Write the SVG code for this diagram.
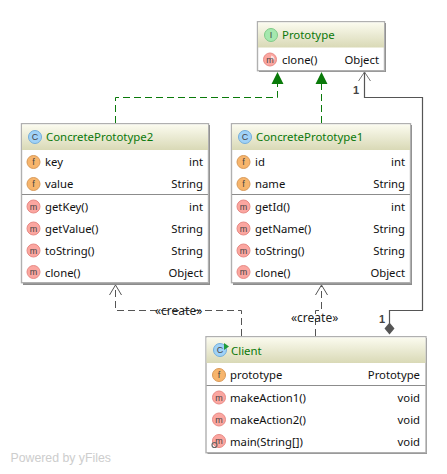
<svg xmlns="http://www.w3.org/2000/svg" width="447" height="474" viewBox="0 0 447 474">
<style>
text{font-family:"Noto Sans","Liberation Sans",sans-serif;font-size:11.3px;fill:#111}
.t{fill:#0a780a;font-size:11.4px}
.r{text-anchor:end}
.ic{font-family:"Liberation Sans",sans-serif;font-size:9px;text-anchor:middle;fill:#444}
.box{fill:#fff;stroke:#b0b0b0;stroke-width:1.4}
.sh{fill:#8c8c8c}
.sep{stroke:#8c8c8c;stroke-width:1}
.f{fill:#f7b56c;stroke:#d99a58}
.m{fill:#fba6a0;stroke:#e88a85}
.c{fill:#a0d2f7;stroke:#74aedb}
.i{fill:#a5e8ae;stroke:#7fca88}
.dash{fill:none;stroke:#555;stroke-width:1;stroke-dasharray:7 4}
.gdash{fill:none;stroke:#0a7a0a;stroke-width:1;stroke-dasharray:7 4}
.lbl{font-size:12px;fill:#222}
.one{font-family:"Liberation Sans",sans-serif;font-size:11px;font-weight:bold;fill:#444}
</style>
<defs>
<linearGradient id="hd" x1="0" y1="0" x2="0" y2="1"><stop offset="0" stop-color="#fbfbef"/><stop offset="1" stop-color="#d9d9b6"/></linearGradient>
</defs>
<rect width="447" height="474" fill="#fff"/>
<g id="connectors">
<path class="gdash" d="M115.500 123V97.500H277.500V84"/>
<path class="gdash" d="M321.500 123V84"/>
<path d="M271.500 84L277.500 72L283.500 84Z M315.500 84L321.500 72L327.500 84Z" fill="#0a7a0a"/>
<path class="dash" d="M241.500 336V310.500H115.500V286"/>
<path fill="none" stroke="#555" d="M109.500 295L115.500 285L121.500 295"/>
<path class="dash" d="M315.500 336V310.500H321.500V286"/>
<path fill="none" stroke="#555" d="M315.500 295L321.500 285L327.500 295"/>
<path fill="none" stroke="#555" stroke-width="1.200" d="M364.500 72V97.500H422.500V310.500H389.500V323"/>
<path fill="none" stroke="#777" d="M358.500 81L364.500 72L370.500 81"/>
<path d="M389.500 322.500L394.500 328.500L389.500 334.500L384.500 328.500Z" fill="#555"/>
<text class="lbl" x="155" y="315">«create»</text>
<text class="lbl" x="291" y="322">«create»</text>
<text class="one" x="353" y="94">1</text>
<text class="one" x="379" y="323">1</text>
</g>
<g id="Prototype">
<rect class="sh" x="259" y="23" width="127" height="49"/>
<rect class="box" x="257.500" y="21.700" width="127" height="49"/>
<rect x="258" y="22.500" width="126" height="25" fill="url(#hd)"/>
<circle class="i" cx="271" cy="35" r="6.500"/><text class="ic" x="271" y="38">I</text>
<text class="t" x="282" y="39">Prototype</text>
<circle class="m" cx="270" cy="59.500" r="6.500"/>
<path d="M271 55.500A4 4 0 0 1 274.500 59.500H271Z" fill="#fff" opacity=".7"/>
<text class="ic" x="270" y="62.500">m</text>
<text x="282" y="64">clone()</text><text class="r" x="379" y="64">Object</text>
</g>
<g id="ConcretePrototype2">
<rect class="sh" x="23" y="125" width="187" height="160"/>
<rect class="box" x="21.500" y="123.700" width="187" height="159"/>
<rect x="22" y="124.500" width="186" height="25.500" fill="url(#hd)"/>
<circle class="c" cx="35" cy="137" r="6.500"/><text class="ic" x="35" y="140">C</text>
<text class="t" x="46" y="141">ConcretePrototype2</text>
<circle class="f" cx="33.500" cy="162" r="6.500"/><text class="ic" x="33.500" y="165">f</text>
<text x="45" y="166">key</text><text class="r" x="203" y="166">int</text>
<circle class="f" cx="33.500" cy="184" r="6.500"/><text class="ic" x="33.500" y="187">f</text>
<text x="45" y="188">value</text><text class="r" x="203" y="188">String</text>
<line class="sep" x1="22" y1="194.500" x2="208" y2="194.500"/>
<circle class="m" cx="33.500" cy="206.500" r="6.500"/><text class="ic" x="33.500" y="209.500">m</text>
<text x="45" y="211">getKey()</text><text class="r" x="203" y="211">int</text>
<circle class="m" cx="33.500" cy="228.500" r="6.500"/><text class="ic" x="33.500" y="231.500">m</text>
<text x="45" y="233">getValue()</text><text class="r" x="203" y="233">String</text>
<circle class="m" cx="33.500" cy="250.500" r="6.500"/><text class="ic" x="33.500" y="253.500">m</text>
<text x="45" y="255">toString()</text><text class="r" x="203" y="255">String</text>
<circle class="m" cx="33.500" cy="272" r="6.500"/><text class="ic" x="33.500" y="275">m</text>
<text x="45" y="277">clone()</text><text class="r" x="203" y="277">Object</text>
</g>
<g id="ConcretePrototype1">
<rect class="sh" x="233" y="125" width="179" height="160"/>
<rect class="box" x="231.500" y="123.700" width="179" height="159"/>
<rect x="232" y="124.500" width="178" height="25.500" fill="url(#hd)"/>
<circle class="c" cx="245" cy="137" r="6.500"/><text class="ic" x="245" y="140">C</text>
<text class="t" x="256" y="141">ConcretePrototype1</text>
<circle class="f" cx="243.500" cy="162" r="6.500"/><text class="ic" x="243.500" y="165">f</text>
<text x="255" y="166">id</text><text class="r" x="405" y="166">int</text>
<circle class="f" cx="243.500" cy="184" r="6.500"/><text class="ic" x="243.500" y="187">f</text>
<text x="255" y="188">name</text><text class="r" x="405" y="188">String</text>
<line class="sep" x1="232" y1="194.500" x2="410" y2="194.500"/>
<circle class="m" cx="243.500" cy="206.500" r="6.500"/><text class="ic" x="243.500" y="209.500">m</text>
<text x="255" y="211">getId()</text><text class="r" x="405" y="211">int</text>
<circle class="m" cx="243.500" cy="228.500" r="6.500"/><text class="ic" x="243.500" y="231.500">m</text>
<text x="255" y="233">getName()</text><text class="r" x="405" y="233">String</text>
<circle class="m" cx="243.500" cy="250.500" r="6.500"/><text class="ic" x="243.500" y="253.500">m</text>
<text x="255" y="255">toString()</text><text class="r" x="405" y="255">String</text>
<circle class="m" cx="243.500" cy="272" r="6.500"/><text class="ic" x="243.500" y="275">m</text>
<text x="255" y="277">clone()</text><text class="r" x="405" y="277">Object</text>
</g>
<g id="Client">
<rect class="sh" x="207.500" y="338" width="219.500" height="116"/>
<rect class="box" x="206" y="336.700" width="220" height="116"/>
<rect x="206.500" y="337.500" width="219" height="25.500" fill="url(#hd)"/>
<circle class="c" cx="220" cy="350" r="6.500"/><text class="ic" x="220" y="353">C</text>
<path d="M224 343L229 346.500L224 350Z" fill="#1f9b3a"/>
<text class="t" x="231" y="355">Client</text>
<circle class="f" cx="219" cy="375" r="6.500"/><text class="ic" x="219" y="378">f</text>
<text x="230" y="379">prototype</text><text class="r" x="420" y="379">Prototype</text>
<line class="sep" x1="206.500" y1="385.500" x2="425.500" y2="385.500"/>
<circle class="m" cx="219" cy="397.500" r="6.500"/><text class="ic" x="219" y="400.500">m</text>
<text x="230" y="402">makeAction1()</text><text class="r" x="420" y="402">void</text>
<circle class="m" cx="219" cy="419.500" r="6.500"/><text class="ic" x="219" y="422.500">m</text>
<text x="230" y="424">makeAction2()</text><text class="r" x="420" y="424">void</text>
<circle class="m" cx="219" cy="441" r="6.500"/><text class="ic" x="219" y="444">m</text>
<circle cx="214.500" cy="445" r="2.500" fill="none" stroke="#666" stroke-width="1.200"/>
<text x="230" y="446">main(String[])</text><text class="r" x="420" y="446">void</text>
</g>
<text x="10.500" y="462" style="font-family:'Liberation Sans',sans-serif;font-size:12.300px;fill:#cdcdcd">Powered by yFiles</text>
</svg>
